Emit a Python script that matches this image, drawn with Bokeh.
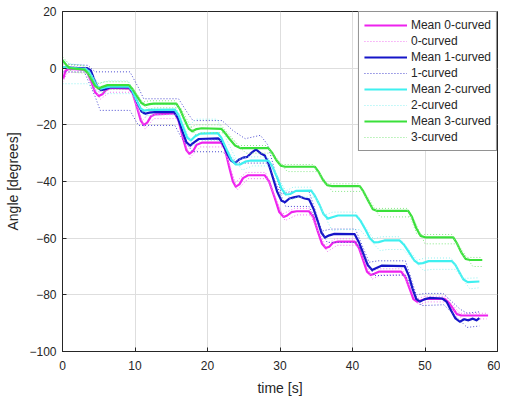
from bokeh.plotting import figure
from bokeh.models import Range1d, Legend, LegendItem, FixedTicker
from bokeh.embed import file_html
from bokeh.resources import INLINE

# ---------------- data: (time [s], angle [deg]) ----------------
mean0_pts = [(0.1, -3.7), (0.4, -1.0), (0.8, -0.3), (3.0, -0.5), (3.5, -1.8), (4.0, -5.0), (4.5, -8.5), (5.0, -9.8),
             (5.5, -9.2), (6.0, -7.7), (6.6, -7.0), (9.2, -7.2), (9.7, -9.0), (10.3, -14.0), (10.8, -18.5),
             (11.2, -20.0), (11.7, -19.2), (12.2, -17.0), (12.8, -16.3), (15.5, -16.0), (16.0, -18.5), (16.6, -24.5),
             (17.1, -29.0), (17.5, -30.2), (18.0, -29.3), (18.5, -27.0), (19.2, -26.3), (21.9, -26.3), (22.4, -28.5),
             (23.0, -35.0), (23.5, -40.0), (23.9, -41.8), (24.4, -41.0), (24.9, -38.8), (25.6, -37.8), (27.9, -37.8),
             (28.5, -40.0), (29.3, -46.0), (29.9, -50.8), (30.5, -52.5), (31.0, -52.0), (31.6, -50.8), (32.3, -50.5),
             (34.0, -50.5), (34.6, -52.5), (35.2, -57.5), (35.8, -62.0), (36.3, -63.5), (36.8, -63.0), (37.3, -61.6),
             (38.0, -61.2), (40.3, -61.2), (40.9, -63.5), (41.5, -68.0), (42.0, -71.8), (42.5, -73.0), (43.0, -72.6),
             (43.7, -71.8), (46.7, -71.8), (47.3, -73.8), (47.9, -78.0), (48.4, -81.5), (48.9, -82.4), (49.4, -82.0),
             (50.2, -81.4), (52.7, -81.4), (53.3, -82.8), (53.9, -85.0), (54.4, -86.8), (55.0, -87.3), (58.7, -87.3)]

mean1_pts = [(0.0, 0.3), (3.0, -0.1), (3.4, 0.0), (3.9, -0.8), (4.3, -3.5), (4.8, -6.5), (5.3, -7.8), (5.8, -7.5),
             (6.5, -6.8), (9.2, -6.8), (9.7, -8.5), (10.3, -12.0), (10.9, -15.3), (11.4, -16.1), (12.0, -15.7),
             (12.7, -15.5), (15.4, -15.5), (15.9, -17.5), (16.5, -22.0), (17.1, -26.2), (17.6, -27.3), (18.1, -26.3),
             (18.8, -25.0), (21.5, -24.8), (22.0, -26.0), (22.6, -29.5), (23.2, -32.5), (23.8, -33.5), (24.3, -32.3),
             (24.9, -31.6), (25.5, -31.3), (26.0, -30.0), (26.7, -28.7), (27.3, -30.0), (27.9, -30.8), (28.4, -33.5),
             (29.0, -38.5), (29.6, -43.5), (30.2, -46.8), (30.7, -47.3), (31.3, -46.0), (31.9, -45.6), (32.6, -45.2),
             (33.4, -46.0), (34.0, -46.3), (34.6, -49.5), (35.2, -54.0), (35.7, -58.0), (36.2, -59.8), (36.8, -59.0),
             (37.5, -58.5), (40.3, -58.6), (40.9, -61.5), (41.5, -65.5), (42.1, -69.5), (42.7, -71.2), (43.3, -70.5),
             (44.0, -69.7), (47.2, -69.9), (47.8, -73.5), (48.3, -78.0), (48.8, -81.5), (49.3, -82.4), (49.9, -81.6),
             (50.6, -81.1), (52.4, -81.3), (53.0, -82.5), (53.6, -85.5), (54.2, -88.3), (54.8, -89.5), (55.4, -88.6),
             (56.0, -89.0), (56.6, -88.4), (57.1, -89.0), (57.5, -88.2)]

mean2_pts = [(0.0, 0.4), (3.1, -0.3), (3.6, -1.0), (4.1, -3.2), (4.7, -6.2), (5.3, -7.2), (5.9, -6.8), (6.6, -6.5),
             (9.2, -6.5), (9.7, -8.3), (10.3, -11.8), (10.8, -14.3), (11.3, -15.0), (11.9, -14.7), (15.5, -14.6),
             (16.0, -16.5), (16.6, -20.5), (17.2, -24.5), (17.7, -25.5), (18.3, -24.0), (19.0, -23.1), (21.4, -22.9),
             (21.9, -24.5), (22.6, -28.5), (23.3, -32.3), (23.9, -34.0), (24.5, -34.0), (25.2, -33.0), (26.0, -32.6),
             (28.4, -32.6), (28.9, -34.5), (29.6, -38.5), (30.2, -42.5), (30.8, -44.6), (31.4, -44.4), (32.2, -43.3),
             (34.3, -43.2), (34.8, -45.0), (35.5, -48.5), (36.0, -51.5), (36.6, -53.1), (37.2, -52.6), (38.0, -52.0),
             (40.5, -52.0), (41.1, -53.8), (41.8, -57.0), (42.4, -60.0), (43.0, -61.5), (43.6, -61.4), (44.4, -60.8),
             (46.5, -60.8), (47.1, -62.3), (47.8, -65.0), (48.5, -67.8), (49.1, -69.0), (49.7, -68.8), (50.5, -68.1),
             (53.7, -68.1), (54.2, -69.5), (54.8, -72.3), (55.3, -74.6), (55.9, -75.5), (57.5, -75.3)]

mean3_pts = [(0.0, 2.8), (0.5, 1.2), (1.0, 0.0), (3.0, -0.5), (3.5, -1.8), (4.0, -4.0), (4.5, -6.3), (5.0, -7.2),
             (5.5, -6.6), (6.2, -6.0), (9.2, -6.0), (9.7, -7.5), (10.3, -10.0), (10.9, -12.3), (11.4, -13.1),
             (12.0, -12.7), (12.6, -12.5), (15.7, -12.5), (16.2, -14.5), (16.8, -18.0), (17.4, -21.3), (17.9, -22.3),
             (18.5, -21.5), (19.2, -21.2), (21.9, -21.4), (22.4, -22.8), (23.1, -25.2), (23.8, -27.3), (24.5, -28.2),
             (28.4, -28.2), (28.9, -29.8), (29.5, -32.5), (30.1, -34.4), (30.7, -34.8), (34.8, -34.8), (35.3, -36.5),
             (35.9, -39.3), (36.5, -41.3), (37.1, -41.6), (41.0, -41.6), (41.5, -43.5), (42.2, -47.0), (42.8, -49.8),
             (43.4, -50.4), (47.7, -50.4), (48.2, -52.5), (48.8, -56.5), (49.4, -59.2), (50.0, -59.7), (53.9, -59.7),
             (54.4, -61.8), (55.0, -65.0), (55.6, -67.3), (56.2, -67.7), (57.9, -67.7)]

# individual trials (dotted)
t_tr0a = [0, 0.5, 3.0, 5.0, 6.3, 9.2, 11.0, 12.3, 15.5, 17.2, 18.7, 22.0, 23.8, 25.3, 28.0, 30.3, 32.0, 34.0, 36.2,
          37.6, 40.4, 42.4, 43.6, 46.8, 48.8, 50.0, 52.8, 54.8, 58.7]
a_tr0a = [-2, 0.5, 0.3, -8.5, -6, -6, -18.5, -15, -15, -29, -25.2, -25.2, -40.5, -36.8, -36.8, -51.5, -49.5, -49.5,
          -62.5, -60.2, -60.2, -72, -70.8, -70.8, -81.5, -80.5, -80.5, -86.5, -86.5]
t_tr0b = [0, 0.7, 3.2, 5.2, 6.5, 9.5, 11.4, 12.6, 15.8, 17.6, 19, 22.2, 24.1, 25.6, 28.2, 30.7, 32.3, 34.2, 36.5, 37.9,
          40.6, 42.7, 43.9, 47, 49.1, 50.3, 53, 55.1, 58.5]
a_tr0b = [-5, -1.5, -1.5, -11, -8.5, -8.5, -21.5, -17.8, -17.8, -31.5, -27.8, -27.8, -43, -39, -39, -53.8, -51.8, -51.8,
          -64.8, -62.5, -62.5, -74.5, -73, -73, -83.5, -82.5, -82.5, -88.5, -88.5]

t_tr1a = [0, 3.5, 4.5, 9.3, 10.5, 11.2, 16.0, 17.3, 18.0, 22.0, 23.5, 25.2, 27.3, 28.3, 30.2, 31.5, 34.0, 35.8, 37.0,
          40.4, 42.3, 43.5, 47.3, 48.8, 50.0, 52.5, 54.8, 55.8, 57.5]
a_tr1a = [1.5, 1.0, -1.3, -1.3, -7, -10.8, -10.8, -16, -18.5, -18.5, -22, -24.9, -23.7, -27, -44.5, -43.5, -43.5, -57.5,
          -56.8, -56.8, -68.5, -68, -68, -80, -79.5, -79.5, -85, -86.5, -86]
t_tr1b = [0, 3.0, 4.5, 5.2, 9.3, 10.2, 10.5, 15.5, 16.5, 18.0, 22.0, 23.5, 24.5, 28.3, 29.5, 30.8, 34.0, 35.5, 36.5,
          40.5, 41.8, 43.0, 47.3, 48.5, 49.5, 52.6, 54, 55.8, 57.5]
a_tr1b = [-1.3, -1.3, -10, -14.9, -14.9, -19, -20.2, -20.2, -25, -29.5, -29.5, -32, -33.5, -33.5, -41, -48.8, -48.8,
          -56, -61.5, -61.5, -67, -73.2, -73, -79, -83.8, -83.5, -87, -91.5, -91]

t_tr2a = [0, 1, 3.0, 5.0, 6.3, 9.1, 10.8, 11.8, 15.4, 17.2, 18.4, 21.3, 24.0, 25.4, 28.3, 30.7, 31.8, 34.2, 36.2, 37.3,
          40.4, 42.9, 44.0, 46.4, 48.9, 50.0, 53.6, 55.3, 57.5]
a_tr2a = [3.3, 1.5, 1.0, -5.5, -4.5, -4.5, -13, -12.8, -12.8, -21, -18, -18, -32.5, -31.3, -31.3, -43.5, -42, -42,
          -51.8, -50.8, -50.8, -60.3, -59.5, -59.5, -67.8, -67, -67, -74.2, -74]
t_tr2b = [0, 3.4, 4.6, 6.0, 9.6, 11.4, 12.5, 16.0, 18.0, 19.2, 21.8, 24.8, 26.2, 28.8, 31.5, 32.5, 34.8, 37.2, 38.3,
          41.0, 43.8, 44.8, 47.0, 49.8, 51.0, 54.2, 56.2, 57.5]
a_tr2b = [-5.5, -5.5, -8, -9, -9, -17, -16.5, -16.5, -27.5, -25.5, -25.5, -36, -34.5, -34.5, -46.5, -45.5, -45.5,
          -57.3, -57, -57, -64.4, -64, -64, -71.4, -71, -71, -77.9, -77.5]

t_tr3a = [0, 1.0, 3.0, 4.8, 5.8, 9.0, 11.0, 12.0, 15.5, 17.5, 18.5, 21.8, 24.3, 28.2, 29.9, 34.6, 36.1, 40.8, 42.7,
          47.5, 48.9, 53.7, 55.4, 57.9]
a_tr3a = [4, 1.2, 0.8, -5.5, -4.8, -4.8, -12, -11.5, -11.5, -21, -20, -20, -27.3, -27.3, -34, -34, -40.8, -40.8, -49.5,
          -49.5, -58.7, -58.7, -66.8, -66.8]
t_tr3b = [0, 1.5, 3.5, 5.5, 6.5, 9.8, 11.8, 12.8, 16.3, 18.3, 19.3, 22.5, 25.3, 29.0, 31.0, 35.3, 37.2, 41.6, 43.8,
          48.3, 50.0, 54.5, 56.6, 57.9]
a_tr3b = [1, -1.5, -1.8, -8.5, -7.5, -7.5, -14.5, -14, -14, -23.5, -22.8, -22.8, -30, -30, -36.5, -36.5, -43.5, -43.5,
          -52.5, -52.5, -62, -62, -70, -70]

x_ticks = [0, 10, 20, 30, 40, 50, 60]
y_ticks = [-100, -80, -60, -40, -20, 0, 20]

mean_colors = ["#ee22ee", "#1515c8", "#3ff0f0", "#3ae03a"]
trial_colors = ["#f27af2", "#4a4ad0", "#8ff2f2", "#85e885"]

# ---------------- figure ----------------
p = figure(width=500, height=398, output_backend="svg", toolbar_location=None,
           x_range=Range1d(0, 60), y_range=Range1d(-100, 20),
           min_border_left=62, min_border_right=3, min_border_top=11, min_border_bottom=40)
p.outline_line_color = "#262626"
p.outline_line_width = 1
p.background_fill_color = "white"
p.border_fill_color = "white"

for ax in (p.xaxis[0], p.yaxis[0]):
    ax.major_tick_in = 4
    ax.major_tick_out = 0
    ax.minor_tick_line_color = None
    ax.axis_line_color = "#262626"
    ax.major_tick_line_color = "#262626"
    ax.major_label_text_font = "Liberation Sans"
    ax.major_label_text_font_size = "12px"
    ax.major_label_text_color = "#262626"
    ax.axis_label_text_font = "Liberation Sans"
    ax.axis_label_text_font_size = "14px"
    ax.axis_label_text_font_style = "normal"
    ax.axis_label_text_color = "#262626"

p.xaxis.ticker = FixedTicker(ticks=x_ticks)
p.yaxis.ticker = FixedTicker(ticks=y_ticks)
p.xaxis.axis_label = "time [s]"
p.yaxis.axis_label = "Angle [degrees]"
p.xaxis.major_label_standoff = 9
p.yaxis.major_label_standoff = 6
p.xaxis.axis_label_standoff = 7
p.yaxis.axis_label_standoff = 5
p.grid.grid_line_color = "#dedede"
p.grid.grid_line_width = 1

means = [mean0_pts, mean1_pts, mean2_pts, mean3_pts]
trials = [[(t_tr0a, a_tr0a), (t_tr0b, a_tr0b)], [(t_tr1a, a_tr1a), (t_tr1b, a_tr1b)],
          [(t_tr2a, a_tr2a), (t_tr2b, a_tr2b)], [(t_tr3a, a_tr3a), (t_tr3b, a_tr3b)]]

items = []
for i in range(4):
    tm = [q[0] for q in means[i]]
    am = [q[1] for q in means[i]]
    rm = p.line(tm, am, line_color=mean_colors[i], line_width=2.2, line_join="round")
    rts = []
    for (tt, aa) in trials[i]:
        rts.append(p.line(tt, aa, line_color=trial_colors[i], line_width=1, line_dash="1 2"))
    items.append(LegendItem(label="Mean %d-curved" % i, renderers=[rm]))
    items.append(LegendItem(label="%d-curved" % i, renderers=[rts[0]]))

legend = Legend(items=items, location="top_right", margin=0, padding=5, spacing=0,
                glyph_width=43, glyph_height=16, label_height=16, label_standoff=4,
                label_text_font="Liberation Sans", label_text_font_size="12px",
                label_text_color="#262626", border_line_color="#262626", border_line_width=1,
                background_fill_alpha=1.0)
p.add_layout(legend, "center")

open("out.html", "w").write(file_html(p, INLINE))
